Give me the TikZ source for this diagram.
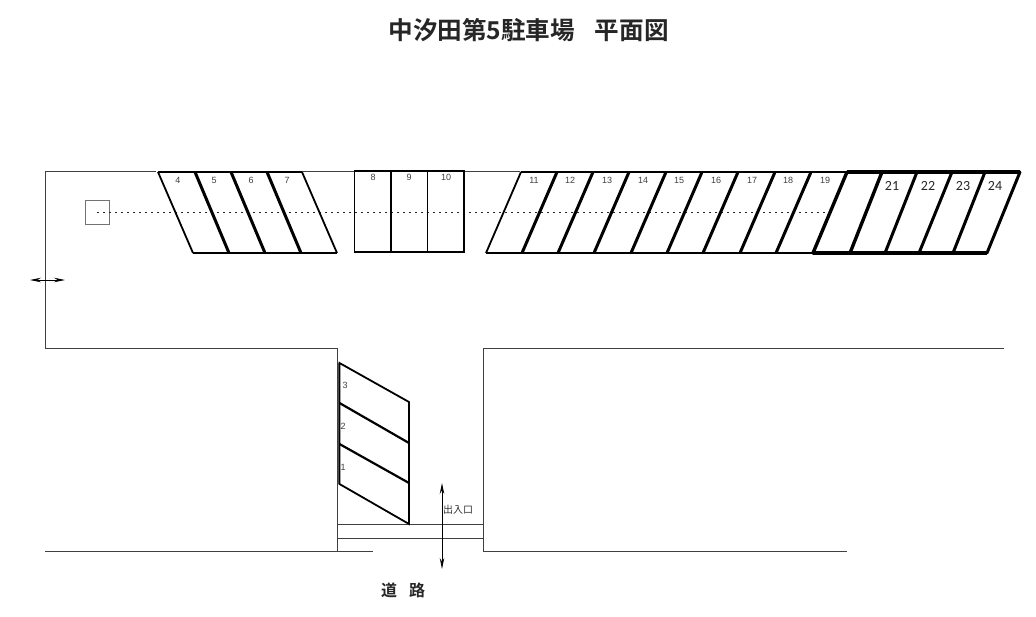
\documentclass[tikz,border=0pt]{standalone}
\usetikzlibrary{arrows.meta}
\usepackage{fontspec}
\setmainfont{Liberation Sans}
\newfontfamily\cjk{Noto Sans CJK JP}
\newfontfamily\cjkb{Noto Sans CJK JP Bold}
\newfontfamily\lightf{Carlito}
\begin{document}
\begin{tikzpicture}[x=1pt,y=-1pt,
  wall/.style={draw=black!75,line width=1pt},
  thinbay/.style={draw=black,line width=1.8pt},
  thickbay/.style={draw=black,line width=3pt},
  heavybay/.style={draw=black,line width=3.4pt},
  baylab/.style={font=\fontsize{9}{10}\selectfont,text=black!75,inner sep=0pt},
  biglab/.style={font=\lightf\fontsize{14}{15}\selectfont,text=black!85,inner sep=0pt},
  dbl/.style={draw=black,line width=1pt,<->,>={Stealth[length=11pt,width=4.5pt]}},
]
\useasboundingbox (0,0) rectangle (1036,616);
\fill[white] (0,0) rectangle (1036,616);
% title
\node[inner sep=0pt,text=black!85] (title) at (528.5,30) {\cjkb\fontsize{24.6}{26}\selectfont 中汐田第5駐車場\hspace{0.8em}平面図};
% walls
\draw[wall] (156,171) -- (45,171) -- (45,348) -- (337,348) -- (337,551);
\draw[wall] (302,171) -- (520,171);
\draw[wall] (45,551) -- (373,551);
\draw[wall] (337,524) -- (483,524);
\draw[wall] (337,538) -- (483,538);
\draw[wall] (1004,348) -- (483,348) -- (483,551) -- (847,551);
\draw[draw=black!55,line width=2pt] (338.5,363) -- (338.5,484);
% pole + dotted line
\node[draw=black!55,line width=0.9pt,minimum size=24pt,inner sep=0pt] (pole) at (97,212) {};
\coordinate (dotA) at (97,212.5);
\coordinate (dotB) at (828,212.5);
\draw[draw=black!85,line width=1.4pt,dash pattern=on 1.8pt off 4.2pt] (dotA) -- (dotB);
% bays 4-7
\draw[thinbay] (193,253) -- (337,253);
\draw[thinbay] (158,172) -- (302,172);
\draw[thinbay] (158,172) -- (193,253);
\draw[thinbay] (302,172) -- (337,253);
\foreach \a/\b in {195/229,231/265,267/301} \draw[thickbay] (\a,172) -- (\b,253);
% bays 8-10
\draw[thinbay] (354.5,171) rectangle (464,252);
\foreach \a in {391,427.5} \draw[thinbay] (\a,171) -- (\a,252);
% bays 11-19
\draw[thinbay] (521,172) -- (847,172);
\draw[thinbay] (486,253) -- (813,253);
\draw[thinbay] (521,172) -- (486,253);
\foreach \a/\b in {557/522,593/558,629/594,666/631,702/667,738/703,775/740,811/776} \draw[thickbay] (\a,172) -- (\b,253);
% bays 20-24
\draw[heavybay] (847,172) -- (1020,172);
\draw[heavybay] (813,253) -- (987,253);
\draw[heavybay,line cap=round] (847,172) -- (813,253);
\draw[heavybay,line cap=round] (882,172) -- (850,253);
\foreach \a/\b in {917/885,952/919,985/953,1020/987} \draw[thickbay,line cap=round] (\a,172) -- (\b,253);
% bays 1-3
\draw[thinbay] (339.5,363) -- (409,402) -- (409,524) -- (339.5,484) -- cycle;
\draw[thickbay,line width=2.2pt] (339.5,403) -- (409,443);
\draw[thickbay,line width=2.2pt] (339.5,444) -- (409,483);
% labels
\foreach \t/\x in {4/178,5/214,6/251,7/287,11/534,12/570,13/607,14/643,15/679,16/716,17/752,18/788,19/825}
  \node[baylab] (bay\t) at (\x,180) {\t};
\foreach \t/\x in {8/373,9/409,10/446}
  \node[baylab] (bay\t) at (\x,177) {\t};
\foreach \t/\x in {21/892,22/928,23/963,24/995}
  \node[biglab] (bay\t) at (\x,186) {\t};
\node[baylab] (bay3) at (345,385) {3};
\node[baylab] (bay2) at (343,426) {2};
\node[baylab] (bay1) at (343,467) {1};
% arrows
\coordinate (hA) at (30,280);
\coordinate (hB) at (65,280);
\draw[dbl] (hA) -- (hB);
\coordinate (vA) at (442,483);
\coordinate (vB) at (442,569);
\draw[dbl] (vA) -- (vB);
\node[inner sep=0pt,text=black!80] (gate) at (458,510) {\cjk\fontsize{10}{11}\selectfont 出入口};
\node[inner sep=0pt,text=black!85] (road) at (403,590) {\cjkb\fontsize{16}{17}\selectfont 道\hspace{0.75em}路};
\end{tikzpicture}
\end{document}
